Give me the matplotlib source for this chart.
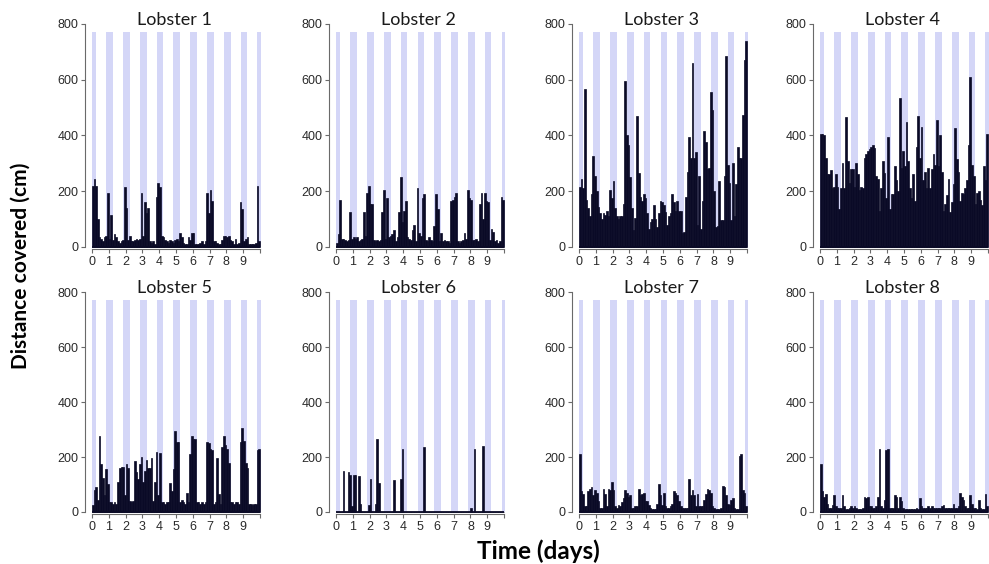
import numpy as np
import matplotlib.pyplot as plt

# distance covered in each 0.1-day interval (cm), days 0.0 .. 9.9
days = np.arange(100) * 0.1

lobster1 = [220, 245, 220, 100, 35, 30, 20, 35, 40, 195,
            30, 115, 25, 45, 35, 20, 15, 20, 25, 215,
            140, 25, 40, 20, 20, 25, 30, 25, 30, 195,
            40, 160, 120, 140, 20, 15, 20, 10, 180, 230,
            215, 40, 35, 25, 20, 15, 25, 20, 15, 25,
            30, 20, 50, 35, 15, 10, 10, 35, 25, 50,
            50, 10, 10, 10, 15, 20, 10, 20, 195, 120,
            205, 165, 20, 20, 15, 10, 10, 25, 40, 40,
            35, 40, 25, 20, 10, 30, 10, 15, 160, 135,
            20, 30, 35, 10, 10, 10, 10, 15, 220, 20]

lobster2 = [15, 45, 170, 30, 30, 25, 20, 25, 125, 30,
            35, 30, 35, 20, 25, 30, 125, 40, 195, 220,
            155, 155, 25, 20, 25, 20, 25, 125, 205, 30,
            175, 35, 40, 45, 60, 20, 35, 125, 250, 90,
            130, 165, 35, 30, 25, 60, 80, 20, 210, 50,
            40, 175, 190, 25, 20, 35, 25, 20, 75, 190,
            135, 20, 50, 20, 25, 20, 20, 15, 165, 170,
            180, 195, 20, 15, 20, 25, 50, 30, 205, 175,
            170, 25, 25, 30, 20, 155, 195, 100, 195, 165,
            160, 25, 65, 55, 20, 25, 15, 20, 180, 170]

lobster3 = [215, 245, 210, 565, 170, 140, 110, 190, 325, 255,
            200, 145, 120, 100, 120, 115, 130, 110, 205, 175,
            235, 140, 110, 100, 110, 110, 155, 595, 400, 365,
            250, 140, 60, 105, 470, 265, 180, 165, 190, 175,
            120, 65, 90, 100, 150, 100, 70, 120, 165, 160,
            150, 125, 80, 110, 120, 190, 160, 130, 165, 130,
            130, 50, 55, 180, 270, 395, 320, 660, 320, 340,
            80, 255, 65, 165, 415, 375, 280, 285, 555, 490,
            200, 70, 75, 235, 95, 95, 255, 685, 295, 230,
            95, 300, 110, 225, 360, 320, 320, 475, 670, 740]

lobster4 = [405, 405, 400, 320, 260, 260, 275, 210, 215, 260,
            215, 135, 210, 300, 210, 465, 310, 230, 280, 280,
            215, 300, 260, 205, 215, 210, 320, 335, 345, 350,
            360, 365, 355, 255, 245, 130, 210, 310, 265, 175,
            395, 135, 190, 190, 290, 240, 200, 535, 285, 345,
            290, 450, 310, 210, 175, 260, 165, 360, 470, 320,
            430, 240, 270, 210, 285, 210, 280, 335, 295, 455,
            290, 400, 270, 130, 155, 185, 245, 125, 160, 225,
            425, 315, 270, 165, 195, 190, 210, 240, 365, 610,
            295, 255, 155, 195, 200, 170, 150, 290, 240, 405]

lobster5 = [25, 80, 90, 45, 275, 175, 125, 60, 155, 100,
            35, 35, 30, 35, 30, 110, 160, 165, 165, 60,
            175, 160, 40, 35, 40, 185, 145, 120, 175, 200,
            110, 150, 190, 160, 160, 195, 40, 110, 220, 60,
            215, 35, 35, 30, 35, 35, 105, 75, 155, 295,
            255, 255, 35, 45, 35, 30, 70, 35, 210, 275,
            265, 265, 35, 35, 30, 35, 30, 35, 255, 250,
            230, 225, 30, 35, 195, 65, 30, 235, 275, 245,
            230, 180, 35, 35, 30, 35, 35, 30, 255, 305,
            260, 180, 160, 30, 30, 25, 30, 30, 225, 230]

lobster6 = [0, 0, 0, 0, 150, 0, 0, 145, 135, 20,
            135, 135, 0, 130, 30, 0, 0, 0, 0, 25,
            120, 0, 0, 30, 265, 105, 0, 0, 0, 0,
            0, 0, 0, 0, 115, 0, 0, 0, 120, 230,
            0, 0, 0, 0, 0, 0, 0, 0, 0, 0,
            0, 0, 235, 0, 0, 0, 0, 0, 0, 0,
            0, 0, 0, 0, 0, 0, 0, 0, 0, 0,
            0, 0, 0, 0, 0, 0, 0, 0, 0, 0,
            15, 0, 230, 0, 0, 0, 0, 240, 0, 0,
            0, 0, 0, 0, 0, 0, 0, 0, 0, 0]

lobster7 = [210, 75, 65, 20, 20, 75, 85, 90, 60, 80,
            70, 40, 15, 15, 85, 65, 20, 85, 80, 110,
            80, 20, 15, 25, 20, 35, 50, 80, 70, 55,
            60, 15, 15, 20, 20, 85, 60, 65, 70, 40,
            40, 25, 15, 10, 10, 10, 30, 100, 60, 25,
            70, 20, 15, 15, 20, 30, 75, 70, 60, 40,
            20, 15, 15, 15, 15, 120, 60, 80, 60, 20,
            65, 20, 20, 20, 45, 65, 85, 80, 70, 20,
            15, 10, 10, 10, 15, 95, 90, 60, 30, 25,
            45, 50, 15, 10, 10, 205, 210, 80, 70, 20]

lobster8 = [175, 75, 55, 65, 30, 15, 15, 25, 60, 20,
            15, 15, 15, 60, 20, 10, 10, 15, 20, 15,
            20, 15, 10, 10, 10, 15, 55, 50, 55, 20,
            20, 15, 15, 20, 55, 230, 20, 15, 45, 225,
            230, 15, 15, 15, 60, 55, 15, 55, 40, 15,
            10, 10, 10, 10, 10, 10, 10, 15, 10, 50,
            20, 15, 15, 15, 20, 15, 20, 15, 15, 15,
            15, 15, 20, 25, 15, 15, 15, 15, 15, 30,
            15, 15, 20, 70, 55, 45, 20, 15, 15, 60,
            30, 15, 15, 10, 45, 15, 10, 10, 65, 20]

series = [lobster1, lobster2, lobster3, lobster4,
          lobster5, lobster6, lobster7, lobster8]
titles = ["Lobster %d" % (i + 1) for i in range(8)]
day_ticks = list(range(11))
day_labels = [str(d) for d in range(10)] + [""]
dist_ticks = [0, 200, 400, 600, 800]

night_color = "#d4d6f7"
bar_color = "#0a0a26"
axis_color = "#6a6a6a"

fig = plt.figure(figsize=(9.89, 5.64), dpi=100)

col_left = [0.0862, 0.3330, 0.5787, 0.8223]
row_bottom = [0.5582, 0.0883]
row_height = [0.4018, 0.3964]
width = 0.1792

for k, vals in enumerate(series):
    r, c = divmod(k, 4)
    ax = fig.add_axes([col_left[c], row_bottom[r], width, row_height[r]])

    # night periods
    for n in day_ticks:
        a = max(n - 0.15, 0)
        b = min(n + 0.25, 10.05)
        ax.fill_between([a, b], 0, 770, color=night_color, lw=0, zorder=0)

    ax.bar(days, vals, width=0.1, align="edge", color=bar_color,
           edgecolor=bar_color, linewidth=0.5, zorder=2)
    # zero line under the record
    ax.hlines(0, days[0], days[-1] + 0.1, color=bar_color, lw=1.3, zorder=2)

    ax.set_xlim(-0.4, 10.15)
    ax.set_ylim(-8, 805)
    ax.set_xticks(day_ticks)
    ax.set_xticklabels(day_labels)
    ax.set_yticks(dist_ticks)
    for sp in ["top", "right"]:
        ax.spines[sp].set_visible(False)
    ax.spines["left"].set_bounds(0, 800)
    ax.spines["bottom"].set_bounds(0, 10)
    for sp in ["left", "bottom"]:
        ax.spines[sp].set_color(axis_color)
        ax.spines[sp].set_linewidth(0.8)
    ax.tick_params(length=3, width=0.8, color=axis_color, labelsize=9,
                   labelcolor="#2a2a2a", pad=2)
    for lab in ax.get_xticklabels() + ax.get_yticklabels():
        lab.set_family("Liberation Sans")

    ax.text(4.9, 795, titles[k], ha="center", va="baseline",
            fontsize=13, family="Lato", color="#1a1a1a")

fig.text(0.021, 0.528, "Distance covered (cm)", rotation=90, ha="center",
         va="center", fontsize=15, fontweight="bold", family="Lato")
fig.text(0.544, 0.023, "Time (days)", ha="center", va="center",
         fontsize=17.5, fontweight="bold", family="Lato")

fig.savefig("out.png", dpi=100)
